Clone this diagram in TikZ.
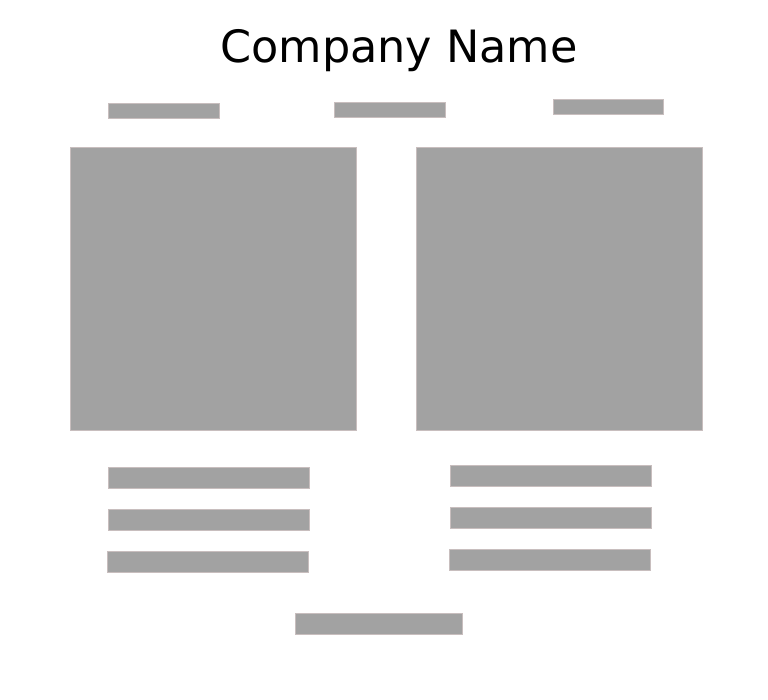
\documentclass[tikz,border=0pt]{standalone}
\usepackage{fontspec}
\setmainfont{DejaVu Sans}

\tikzset{every picture/.style={line width=0.75pt}}
\tikzset{
  block/.style={draw={rgb, 255:red, 200; green, 190; blue, 190 }, fill={rgb, 255:red, 162; green, 162; blue, 162 }, line width=0.75}
}

\begin{document}
\begin{tikzpicture}[x=0.75pt,y=0.75pt,yscale=-1,xscale=1]
%set diagram left start at 0, and has height of 700
\useasboundingbox (0,0) rectangle (768,700);

% Text Node
\draw (399,62.5) node (title) [anchor=base][inner sep=0.75pt]  [font=\fontsize{33.4}{40}\selectfont]  {Company Name};

%Shape: Rectangle [id:top1] 
\draw  [block] (108,103) -- (219,103) -- (219,118) -- (108,118) -- cycle ;
%Shape: Rectangle [id:top2] 
\draw  [block] (334,102) -- (445,102) -- (445,117) -- (334,117) -- cycle ;
%Shape: Rectangle [id:top3] 
\draw  [block] (553,99) -- (663,99) -- (663,114) -- (553,114) -- cycle ;

%Shape: Rectangle [id:picleft] 
\draw  [block] (70,147) -- (356,147) -- (356,430) -- (70,430) -- cycle ;
%Shape: Rectangle [id:picright] 
\draw  [block] (416,147) -- (702,147) -- (702,430) -- (416,430) -- cycle ;

%Shape: Rectangle [id:left1] 
\draw  [block] (108,467) -- (309,467) -- (309,488) -- (108,488) -- cycle ;
%Shape: Rectangle [id:left2] 
\draw  [block] (108,509) -- (309,509) -- (309,530) -- (108,530) -- cycle ;
%Shape: Rectangle [id:left3] 
\draw  [block] (107,551) -- (308,551) -- (308,572) -- (107,572) -- cycle ;

%Shape: Rectangle [id:right1] 
\draw  [block] (450,465) -- (651,465) -- (651,486) -- (450,486) -- cycle ;
%Shape: Rectangle [id:right2] 
\draw  [block] (450,507) -- (651,507) -- (651,528) -- (450,528) -- cycle ;
%Shape: Rectangle [id:right3] 
\draw  [block] (449,549) -- (650,549) -- (650,570) -- (449,570) -- cycle ;

%Shape: Rectangle [id:bottom] 
\draw  [block] (295,613) -- (462,613) -- (462,634) -- (295,634) -- cycle ;

\end{tikzpicture}
\end{document}
